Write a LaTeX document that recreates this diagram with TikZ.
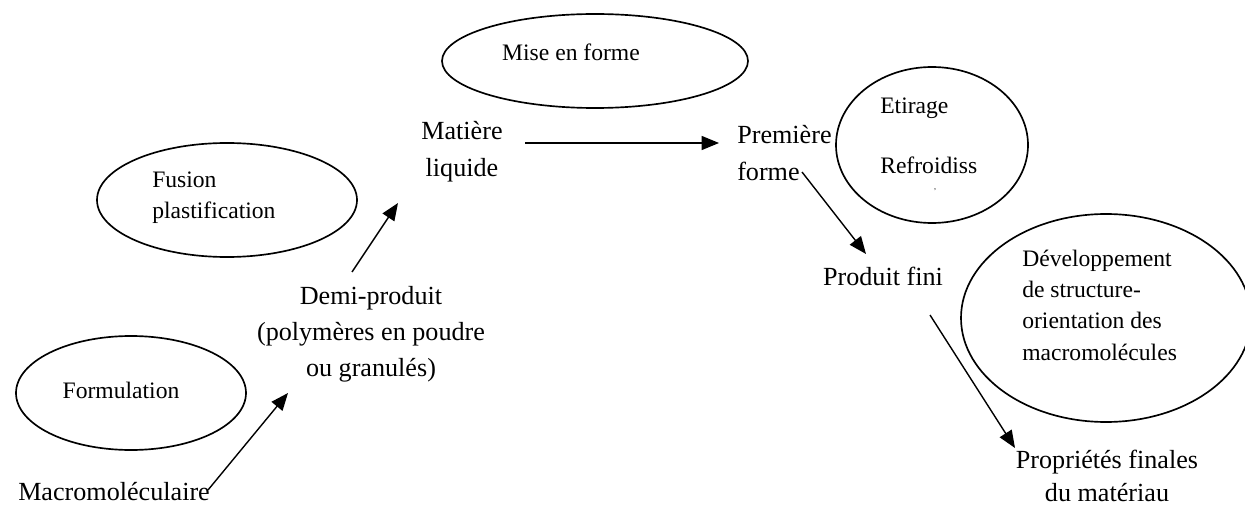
\documentclass[tikz,border=0pt]{standalone}
\usepackage{fontspec}
\setmainfont{Liberation Serif}
\usetikzlibrary{arrows.meta,shapes.geometric}
\begin{document}
\begin{tikzpicture}[x=0.75pt,y=-0.75pt,
  oval/.style={draw,ellipse,line width=1.25pt,inner sep=0pt},
  big/.style={font=\fontsize{19.6}{27}\selectfont,inner sep=0pt},
  small/.style={font=\fontsize{17.7}{23.5}\selectfont,inner sep=0pt},
  arr/.style={line width=1.05pt,-{Triangle[length=13pt,width=10.5pt]}}]
\fill[white] (0,0) rectangle (1245,506);
\useasboundingbox (0,0) rectangle (1245,506);
% ellipses
\node[oval,minimum width=229.5pt,minimum height=70.5pt] (eMise) at (595,61) {};
\node[oval,minimum width=195pt,minimum height=85.5pt] (eFusion) at (227,200) {};
\node[oval,minimum width=172.5pt,minimum height=85.5pt] (eForm) at (131,393) {};
\node[oval,minimum width=144pt,minimum height=117pt] (eEtir) at (932,145) {};
\node[oval,minimum width=217.5pt,minimum height=156pt] (eDev) at (1106,318) {};
% ellipse texts
\node[small] (tMise) at (571,52) {Mise en forme};
\node[small,align=left,anchor=west] (tFusion) at (152,198) {Fusion\\plastification};
\node[small] (tForm) at (121,390) {Formulation};
\node[small,anchor=west] (tEtir) at (880,108) {Etirage};
\node[small,anchor=west] (tRefr) at (880,165) {Refroidiss};
\node[font=\fontsize{6}{6}\selectfont,inner sep=0pt] (tMark) at (935,190) {,};
\node[small,align=left,anchor=west] (tDev) at (1022,305) {Développement\\de structure-\\orientation des\\macromolécules};
% main texts
\node[big,anchor=west] (macro) at (18,492) {Macromoléculaire};
\node[big,align=center] (demi) at (371,334) {Demi-produit\\(polymères en poudre\\ou granulés)};
\node[big,align=center,font=\fontsize{19.6}{28}\selectfont] (matiere) at (462,152) {Matière\\liquide};
\node[big,align=left,anchor=west,font=\fontsize{19.6}{28}\selectfont] (premiere) at (737,153) {Première\\forme};
\node[big] (produit) at (883,276) {Produit fini};
\node[big,align=center,font=\fontsize{19.6}{25}\selectfont] (props) at (1107,476) {Propriétés finales\\du matériau};
% arrow ends
\coordinate (a1s) at (208,490);
\coordinate (a1e) at (288,393);
\coordinate (a2s) at (352,272);
\coordinate (a2e) at (398,203);
\coordinate (a3s) at (525,143);
\coordinate (a3e) at (719,143);
\coordinate (a4s) at (802,172);
\coordinate (a4e) at (866,254);
\coordinate (a5s) at (930,315);
\coordinate (a5e) at (1015,448);
\draw[arr] (a1s) -- (a1e);
\draw[arr] (a2s) -- (a2e);
\draw[arr] (a3s) -- (a3e);
\draw[arr] (a4s) -- (a4e);
\draw[arr] (a5s) -- (a5e);
\end{tikzpicture}
\end{document}
